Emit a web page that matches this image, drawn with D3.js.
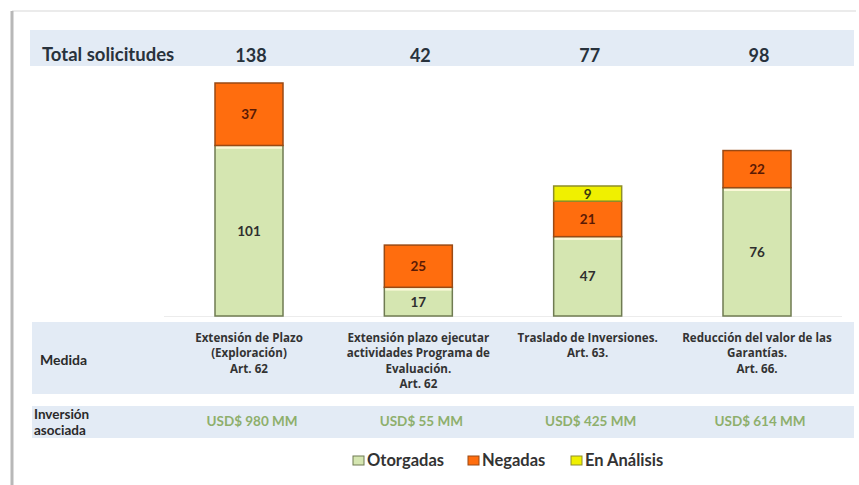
<!DOCTYPE html>
<html>
<head>
<meta charset="utf-8">
<script src="https://cdn.jsdelivr.net/npm/d3@7"></script>
<style>
  body { margin: 0; background: #fff; }
  svg { display: block; font-family: Lato, "Open Sans", sans-serif; }
</style>
</head>
<body>
<svg id="chart" width="859" height="485"></svg>
<script>
const categories = ["c1", "c2", "c3", "c4"];
const medidaLabels = [
  ["Extensión de Plazo", "(Exploración)", "Art. 62"],
  ["Extensión plazo ejecutar", "actividades Programa de", "Evaluación.", "Art. 62"],
  ["Traslado de Inversiones.", "Art. 63."],
  ["Reducción del valor de las", "Garantías.", "Art. 66."]
];
const otorgadas = [101, 17, 47, 76];
const negadas = [37, 25, 21, 22];
const enAnalisis = [0, 0, 9, 0];
const totales = [138, 42, 77, 98];
const inversion = ["USD$ 980 MM", "USD$ 55 MM", "USD$ 425 MM", "USD$ 614 MM"];
const seriesNames = ["Otorgadas", "Negadas", "En Análisis"];

const svg = d3.select("#chart");

// frame (shadowed box)
svg.append("line").attr("x1", 12).attr("x2", 856).attr("y1", 11).attr("y2", 11)
  .attr("stroke", "#e4e4e4").attr("stroke-width", 1.5);
svg.append("line").attr("x1", 12).attr("x2", 12).attr("y1", 11).attr("y2", 485)
  .attr("stroke", "#b8b8b8").attr("stroke-width", 3);

// table bands
svg.append("rect").attr("x", 30).attr("y", 30).attr("width", 824).attr("height", 36).attr("fill", "#e3ebf5");
svg.append("rect").attr("x", 32).attr("y", 322).attr("width", 822).attr("height", 72).attr("fill", "#e3ebf5");
svg.append("rect").attr("x", 32).attr("y", 406).attr("width", 822).attr("height", 32).attr("fill", "#e3ebf5");
svg.append("line").attr("x1", 164).attr("x2", 842).attr("y1", 316.5).attr("y2", 316.5)
  .attr("stroke", "#ececec");

const x = d3.scalePoint().domain(categories).range([249, 757]);
const y = d3.scaleLinear().domain([0, 138]).range([316, 83]);
const barW = 68;

const rows = categories.map((c, i) => ({
  cat: c, Otorgadas: otorgadas[i], Negadas: negadas[i], "En Análisis": enAnalisis[i]
}));
const stack = d3.stack().keys(seriesNames)(rows);

const fills = { "Otorgadas": "#d5e6b1", "Negadas": "#ff6d0e", "En Análisis": "#f0f000" };
const strokes = { "Otorgadas": "#6f7b52", "Negadas": "#9a4a14", "En Análisis": "#8e8e2a" };
const textCol = { "Otorgadas": "#2e2e2e", "Negadas": "#5a1a05", "En Análisis": "#3a3a10" };

stack.forEach(s => {
  const g = svg.append("g");
  s.forEach((d, i) => {
    if (d[1] - d[0] <= 0) return;
    const cx = x(categories[i]);
    const y0 = y(d[1]), y1 = y(d[0]);
    g.append("rect")
      .attr("x", cx - barW / 2).attr("y", y0)
      .attr("width", barW).attr("height", y1 - y0)
      .attr("fill", fills[s.key]).attr("stroke", strokes[s.key]).attr("stroke-width", 1.5);
    if (s.key === "Otorgadas") {
      g.append("rect").attr("x", cx - barW / 2 + 1).attr("y", y0 + 0.8)
        .attr("width", barW - 2).attr("height", 2.5).attr("fill", "#fbf8d8");
    }
    g.append("text")
      .attr("x", cx).attr("y", (y0 + y1) / 2 + 5)
      .attr("text-anchor", "middle")
      .attr("font-size", 13.5).attr("font-weight", 700)
      .attr("fill", textCol[s.key])
      .text(d[1] - d[0]);
  });
});

// header row
svg.append("text").attr("x", 42).attr("y", 61)
  .attr("font-size", 18.5).attr("font-weight", 700).attr("fill", "#28323c")
  .text("Total solicitudes");
svg.selectAll("text.total").data(totales).join("text").attr("class", "total")
  .attr("x", (d, i) => x(categories[i]) + 2).attr("y", 62)
  .attr("text-anchor", "middle")
  .attr("font-size", 18).attr("font-weight", 700).attr("fill", "#28323c")
  .text(d => d);

// Medida row
svg.append("text").attr("x", 40).attr("y", 365)
  .attr("font-size", 14).attr("font-weight", 700).attr("fill", "#2a2a2a")
  .text("Medida");
medidaLabels.forEach((lines, i) => {
  svg.append("text")
    .attr("text-anchor", "middle")
    .attr("font-family", "'Open Sans', sans-serif")
    .attr("font-size", 11.6).attr("font-weight", 700).attr("fill", "#333")
    .selectAll("tspan").data(lines).join("tspan")
    .attr("x", x(categories[i])).attr("y", (d, j) => 342 + j * 15.3)
    .text(d => d);
});

// Inversión row
svg.append("text").attr("font-size", 13.5).attr("font-weight", 700).attr("fill", "#2a2a2a")
  .selectAll("tspan").data(["Inversión", "asociada"]).join("tspan")
  .attr("x", 34).attr("y", (d, j) => 419 + j * 16)
  .text(d => d);
svg.selectAll("text.inv").data(inversion).join("text").attr("class", "inv")
  .attr("x", (d, i) => x(categories[i]) + 3).attr("y", 426)
  .attr("text-anchor", "middle")
  .attr("font-size", 13.5).attr("font-weight", 700).attr("fill", "#8eaf6c")
  .text(d => d);

// legend
const legendX = [353, 468, 571];
const lg = svg.append("g");
seriesNames.forEach((n, i) => {
  lg.append("rect").attr("x", legendX[i]).attr("y", 456).attr("width", 11).attr("height", 9)
    .attr("fill", fills[n]).attr("stroke", strokes[n]).attr("stroke-width", 1);
  lg.append("text").attr("x", legendX[i] + 14).attr("y", 466)
    .attr("font-size", 16.5).attr("font-weight", 700).attr("fill", "#333")
    .text(n);
});
</script>
</body>
</html>
